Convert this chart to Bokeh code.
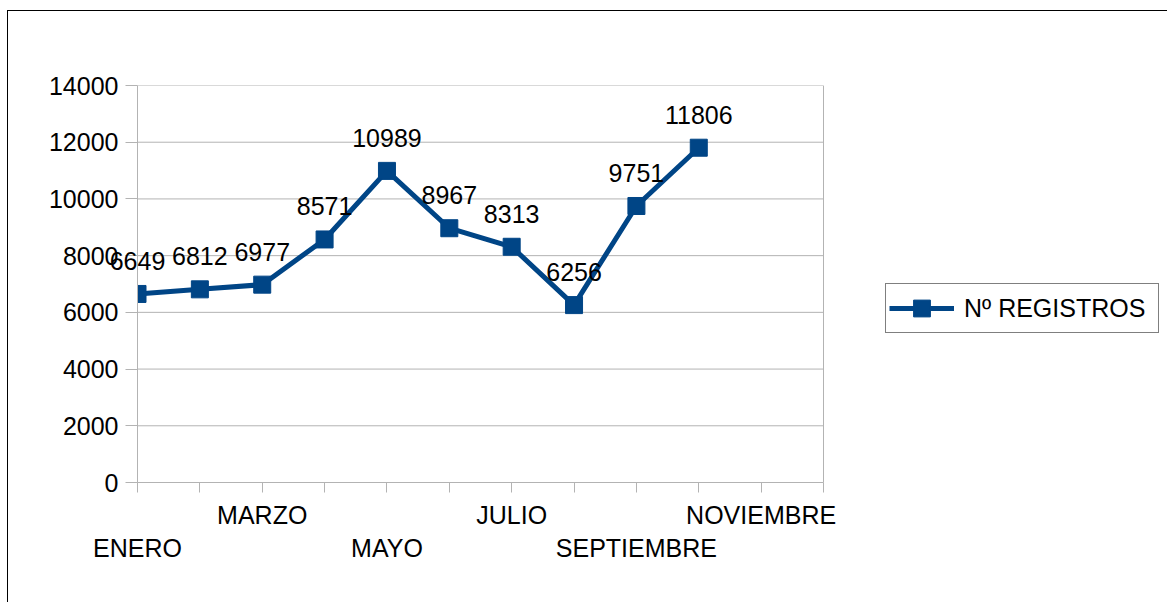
from bokeh.plotting import figure
from bokeh.models import Range1d, FixedTicker, Legend, LegendItem, ColumnDataSource
from bokeh.core.properties import value
from bokeh.embed import file_html
from bokeh.resources import INLINE

months = ["ENERO", "FEBRERO", "MARZO", "ABRIL", "MAYO", "JUNIO", "JULIO",
          "AGOSTO", "SEPTIEMBRE", "OCTUBRE", "NOVIEMBRE", "DICIEMBRE"]
registros = [6649, 6812, 6977, 8571, 10989, 8967, 8313, 6256, 9751, 11806]
y_ticks = [0, 2000, 4000, 6000, 8000, 10000, 12000, 14000]
series_name = "Nº REGISTROS"

FONT = "Liberation Sans"
BLUE = "#004586"
GRID = "#b3b3b3"

n_cat = len(months)
last = n_cat - 1
# the frame runs on to the right edge so that the legend lies inside it;
# the category axis itself covers 0..last (686 px)
px_per_cat = 686 / last
frame_w = 1160 - 129
p = figure(width=1160, height=592, output_backend="svg", toolbar_location=None,
           x_range=Range1d(0, frame_w / px_per_cat), y_range=Range1d(0, 14000),
           min_border_left=129, min_border_top=74, min_border_right=0,
           min_border_bottom=121)
p.margin = (10, 0, 0, 7)
p.styles = {"border-left": "1px solid #000000", "border-top": "1px solid #000000"}
p.outline_line_color = None
p.xgrid.grid_line_color = None
p.ygrid.grid_line_color = None

# horizontal grid lines and right edge of plot area, limited to the category span
p.segment(x0=[0] * len(y_ticks), x1=[last] * len(y_ticks), y0=y_ticks, y1=y_ticks,
          line_color=GRID, line_width=1)
p.segment(x0=[last], x1=[last], y0=[y_ticks[0]], y1=[y_ticks[-1]],
          line_color=GRID, line_width=1)

xs = list(range(len(registros)))
src = ColumnDataSource(dict(x=xs, y=registros, t=[str(v) for v in registros]))

r_line = p.line("x", "y", source=src, line_color=BLUE, line_width=5)
r_mark = p.scatter("x", "y", source=src, marker="square", size=17,
                   fill_color=BLUE, line_color=BLUE)
p.text("x", "y", text="t", source=src, text_font=value(FONT),
       text_font_size="25px", text_color="#000000", text_align="center",
       text_baseline="middle", y_offset=-33, level="overlay")

# axes
p.xaxis.ticker = FixedTicker(ticks=list(range(n_cat)))
p.xaxis.bounds = (0, last)
overrides = {}
for i, m in enumerate(months):
    if i % 2 == 0 and i < last:
        overrides[i] = m if (i // 2) % 2 == 1 else "\n" + m
    else:
        overrides[i] = ""
p.xaxis.major_label_overrides = overrides
p.yaxis.ticker = FixedTicker(ticks=y_ticks)

for ax in (p.xaxis[0], p.yaxis[0]):
    ax.axis_line_color = GRID
    ax.major_tick_line_color = GRID
    ax.minor_tick_line_color = None
    ax.major_tick_in = 0
    ax.major_label_text_font = FONT
    ax.major_label_text_font_size = "25px"
    ax.major_label_text_color = "#000000"
p.xaxis.major_tick_out = 10
p.xaxis.major_label_standoff = 8
p.yaxis.major_tick_out = 12
p.yaxis.major_label_standoff = 7

legend = Legend(items=[LegendItem(label=series_name, renderers=[r_line, r_mark])],
                location=(748, 149), margin=0, padding=3,
                glyph_width=65, glyph_height=42, label_standoff=10,
                label_width=191,
                label_text_font=FONT, label_text_font_size="25px",
                label_text_color="#000000",
                border_line_color="#000000", border_line_width=1,
                background_fill_alpha=1.0)
p.add_layout(legend, "center")

open("out.html", "w").write(file_html(p, INLINE))
